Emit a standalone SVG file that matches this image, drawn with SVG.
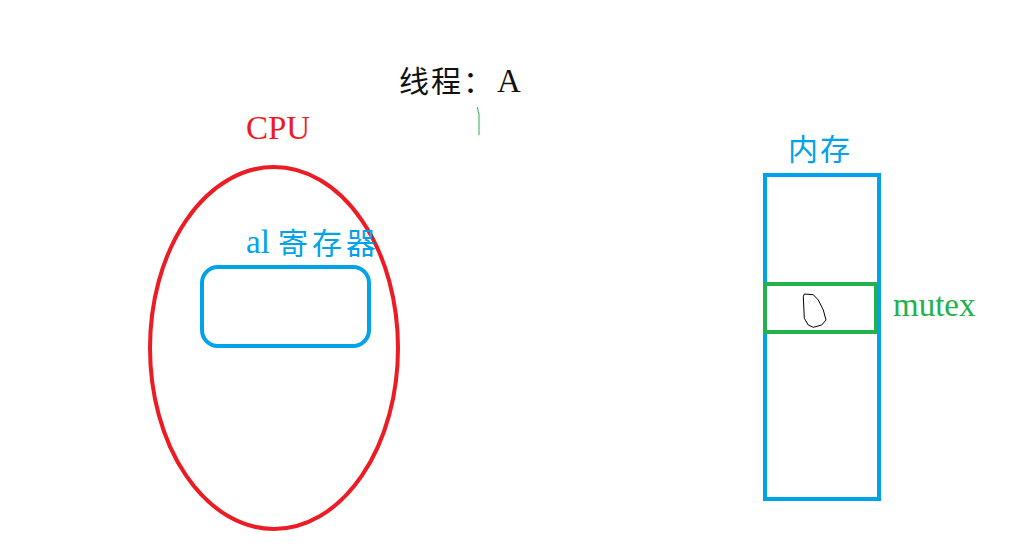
<svg xmlns="http://www.w3.org/2000/svg" width="1012" height="552" viewBox="0 0 1012 552">
<style>
.t{font-family:"Liberation Serif","Noto Sans CJK SC",serif;font-size:33px}
.c{font-family:"Noto Sans CJK SC","Liberation Serif",sans-serif;font-size:30px;letter-spacing:2px}
.blue{fill:#00A2E8}
.sb{fill:none;stroke:#00A2E8;stroke-width:4}
</style>
<rect width="1012" height="552" fill="#fff"/>
<g id="title">
<text class="c" x="399" y="92" fill="#111">线程：</text>
<text class="t" x="497" y="92" fill="#111">A</text>
<path d="M477.5 107 Q478 112 479 114 L479 135" fill="none" stroke="#22B14C" stroke-width="1"/>
</g>
<g id="cpu">
<text class="t" x="246" y="139" fill="#ED1C24">CPU</text>
<ellipse cx="274" cy="348" rx="124" ry="181" fill="none" stroke="#ED1C24" stroke-width="4"/>
</g>
<g id="register">
<text class="t blue" x="246" y="253">al</text>
<text class="c blue" x="278" y="254" style="letter-spacing:4px">寄存器</text>
<rect x="202" y="267" width="167" height="79" rx="16" class="sb"/>
</g>
<g id="memory">
<text class="c blue" x="788" y="160">内存</text>
<rect x="765" y="175" width="114" height="324" class="sb"/>
</g>
<g id="mutex">
<rect x="765" y="284" width="111" height="48" fill="none" stroke="#22B14C" stroke-width="4"/>
<path d="M804.3 294 L813.3 294.7 L818.3 300 L823.3 310 L826 320 L821.7 325 L813.3 327.3 L808.3 325 L804.3 318.3 L803.3 296.7 Z" fill="none" stroke="#000" stroke-width="1"/>
<text class="t" x="893" y="316" fill="#22B14C">mutex</text>
</g>
<g id="connectors"></g>
</svg>
